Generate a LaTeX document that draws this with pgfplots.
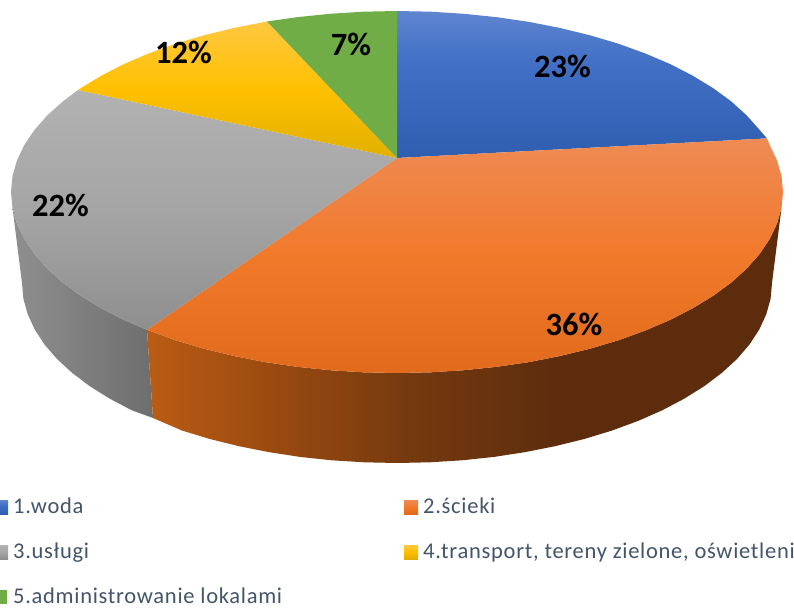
\documentclass[border=0pt]{standalone}
\usepackage{pgfplots}
\pgfplotsset{compat=1.18}
\usepackage{fontspec}
\setmainfont{Carlito}
\definecolor{legtxt}{HTML}{44546A}
\definecolor{bl1}{HTML}{5F85D0}\definecolor{bl2}{HTML}{4170C6}\definecolor{bl3}{HTML}{2F5DAF}
\definecolor{or1}{HTML}{EE8B54}\definecolor{or2}{HTML}{F1792A}\definecolor{or3}{HTML}{E26A1C}
\definecolor{gr1}{HTML}{B2B2B2}\definecolor{gr2}{HTML}{A5A5A5}\definecolor{gr3}{HTML}{8F8F8F}
\definecolor{ye1}{HTML}{FFC840}\definecolor{ye2}{HTML}{FFC000}\definecolor{ye3}{HTML}{E0B000}
\definecolor{gn}{HTML}{70AD47}
\definecolor{wo1}{HTML}{BA5C14}\definecolor{wo2}{HTML}{9A4A10}\definecolor{wo3}{HTML}{74390F}\definecolor{wo4}{HTML}{5C2C0D}
\definecolor{wg1}{HTML}{8F8F8F}\definecolor{wg2}{HTML}{6E6E6E}
\pgfdeclareverticalshading{blueTop}{100bp}{color(0bp)=(bl3);color(25bp)=(bl3);color(58bp)=(bl2);color(75bp)=(bl1);color(100bp)=(bl1)}
\pgfdeclareverticalshading{orangeTop}{100bp}{color(0bp)=(or3);color(25bp)=(or3);color(50bp)=(or2);color(75bp)=(or1);color(100bp)=(or1)}
\pgfdeclareverticalshading{grayTop}{100bp}{color(0bp)=(gr3);color(25bp)=(gr3);color(50bp)=(gr2);color(75bp)=(gr1);color(100bp)=(gr1)}
\pgfdeclareverticalshading{yellowTop}{100bp}{color(0bp)=(ye3);color(25bp)=(ye3);color(50bp)=(ye2);color(75bp)=(ye1);color(100bp)=(ye1)}
\pgfdeclarehorizontalshading{orangeWall}{100bp}{color(0bp)=(wo1);color(25bp)=(wo1);color(35bp)=(wo2);color(46bp)=(wo3);color(58bp)=(wo4);color(100bp)=(wo4)}
\pgfdeclarehorizontalshading{grayWall}{100bp}{color(0bp)=(wg1);color(25bp)=(wg1);color(75bp)=(wg2);color(100bp)=(wg2)}
\begin{document}
\begin{tikzpicture}
\begin{axis}[scale only axis,width=794pt,height=612pt,xmin=0,xmax=794,ymin=0,ymax=612,y dir=reverse,axis lines=none,ticks=none,clip=false]
% page background: fixes the picture's extent
\addplot[draw=none,fill=white] coordinates {(0,0)(794,0)(794,612)(0,612)} -- cycle;
% side walls
\addplot[draw=none,shade,shading=grayWall] coordinates {
(12.5,207.8)(16.9,223.4)(24.2,238.8)(34.3,253.9)(47.2,268.5)(62.7,282.5)(80.8,295.8)(101.3,308.3)(124,320)(147,329.8)
(153,418)(131.8,410.3)(109.8,398.7)(89.8,386.2)(72.3,373)(57.1,359.1)(44.6,344.6)(34.8,329.6)(27.7,314.2)(23.4,298.7)(22,283)
} -- cycle;
\addplot[draw=none,shade,shading=orangeWall] coordinates {
(147,329.8)(175.6,340.3)(204,348.7)(233.9,356)(265,362.1)(297.1,366.8)(330,370.2)(363.3,372.3)(397,373)(430.7,372.3)(464,370.2)(496.9,366.8)(529,362.1)(560.1,356)(590,348.7)(618.4,340.3)(645.1,330.6)(670,320)(692.7,308.3)(713.2,295.8)(731.3,282.5)(746.8,268.5)(759.7,253.9)(769.8,238.8)(777.1,223.4)(781.5,207.8)
(772,283)(770.6,298.7)(766.3,314.2)(759.2,329.6)(749.4,344.6)(736.9,359.1)(721.7,373)(704.2,386.2)(684.2,398.7)(662.2,410.3)(638.1,420.9)(612.1,430.5)(584.5,438.9)(555.5,446.1)(525.2,452.1)(494.1,456.9)(462.1,460.3)(429.7,462.3)(397,463)(364.3,462.3)(331.9,460.3)(299.9,456.9)(268.8,452.1)(238.5,446.1)(209.5,438.9)(181.9,430.5)(153,418)
} -- cycle;
% top faces
\addplot[draw=none,shade,shading=blueTop] coordinates {
(397,158)(397,11)(430.7,11.7)(464,13.8)(496.9,17.2)(529,21.9)(560.1,28)(590,35.3)(618.4,43.7)(645.1,53.4)(670,64)(692.7,75.7)(713.2,88.2)(731.3,101.5)(746.8,115.5)(759.7,130.1)(767,138.4)
} -- cycle;
\addplot[draw=none,shade,shading=orangeTop] coordinates {
(397,158)(767,138.4)(769.8,145.2)(777.1,160.6)(781.5,176.2)(783,192)(781.5,207.8)(777.1,223.4)(769.8,238.8)(759.7,253.9)(746.8,268.5)(731.3,282.5)(713.2,295.8)(692.7,308.3)(670,320)(645.1,330.6)(618.4,340.3)(590,348.7)(560.1,356)(529,362.1)(496.9,366.8)(464,370.2)(430.7,372.3)(397,373)(363.3,372.3)(330,370.2)(297.1,366.8)(265,362.1)(233.9,356)(204,348.7)(175.6,340.3)(147,329.8)
} -- cycle;
\addplot[draw=none,shade,shading=grayTop] coordinates {
(397,158)(147,329.8)(124,320)(101.3,308.3)(80.8,295.8)(62.7,282.5)(47.2,268.5)(34.3,253.9)(24.2,238.8)(16.9,223.4)(12.5,207.8)(11,192)(12.5,176.2)(16.9,160.6)(24.2,145.2)(34.3,130.1)(47.2,115.5)(62.7,101.5)(78,90)
} -- cycle;
\addplot[draw=none,shade,shading=yellowTop] coordinates {
(397,158)(78,90)(80.8,88.2)(101.3,75.7)(124,64)(148.9,53.4)(175.6,43.7)(204,35.3)(233.9,28)(267,21.5)
} -- cycle;
\addplot[draw=none,fill=gn] coordinates {
(397,158)(267,21.5)(297.1,17.2)(330,13.8)(363.3,11.7)(397,11)
} -- cycle;
% legend keys
\addplot[draw=none,shade,shading=blueTop] coordinates {(0,500)(8,500)(8,514)(0,514)} -- cycle;
\addplot[draw=none,shade,shading=orangeTop] coordinates {(404,500)(418,500)(418,514)(404,514)} -- cycle;
\addplot[draw=none,shade,shading=grayTop] coordinates {(0,545)(8,545)(8,559)(0,559)} -- cycle;
\addplot[draw=none,shade,shading=yellowTop] coordinates {(404,545)(418,545)(418,559)(404,559)} -- cycle;
\addplot[draw=none,fill=gn] coordinates {(0,590)(7,590)(7,604)(0,604)} -- cycle;
% labels
\begin{scope}[every node/.style={font=\fontsize{32.5}{38}\selectfont\bfseries,text=black,inner sep=0pt}]
\node at (axis cs:562.5,66) {23\%};
\node at (axis cs:574,324) {36\%};
\node at (axis cs:60.5,205) {22\%};
\node at (axis cs:183.5,52) {12\%};
\node at (axis cs:351,44) {7\%};
\end{scope}
\begin{scope}[every node/.style={font=\fontsize{22.5}{26}\selectfont\addfontfeature{LetterSpace=3.2},text=legtxt,inner sep=0pt,anchor=base west}]
\node at (axis cs:13,513) {1.woda};
\node at (axis cs:423,513) {2.ścieki};
\node at (axis cs:13,558) {3.usługi};
\node at (axis cs:423,558) {\makebox[370pt][l]{4.transport, tereny zielone, oświetleni}};
\node at (axis cs:13,603) {5.administrowanie lokalami};
\end{scope}
\end{axis}
\end{tikzpicture}
\end{document}
